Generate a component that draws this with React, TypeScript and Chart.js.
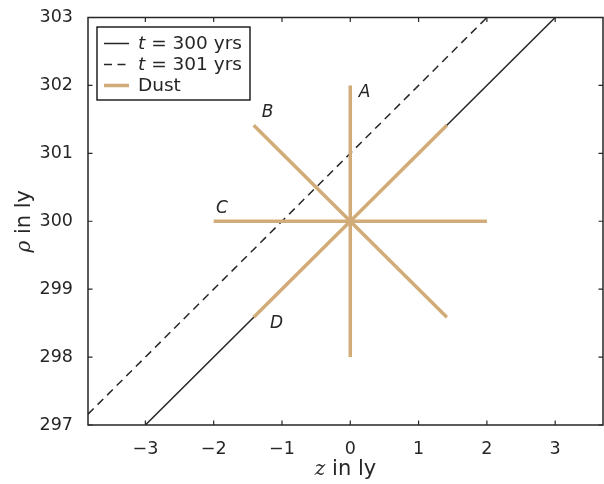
import React, { useEffect, useRef } from "react";
import { Chart, registerables } from "chart.js";

Chart.register(...registerables);

// ---- data ----
const xLimits = [-3.84, 3.7];
const yLimits = [297, 303];
const legendTimes = ["300", "301"];
const lineT300X = [-3, 3];
const lineT300Y = [297, 303];
const lineT301X = [-3.84, 2];
const lineT301Y = [297.16, 303];
const dustArms = ["A", "B", "C", "D"];
const dustStartX = [0, -1.414, -2, -1.414];
const dustStartY = [298, 301.414, 300, 298.586];
const dustEndX = [0, 1.414, 2, 1.414];
const dustEndY = [302, 298.586, 300, 301.414];
const armLabelX = [0.21, -1.21, -1.88, -1.08];
const armLabelY = [301.9, 301.6, 300.19, 298.5];

const SANS = '"DejaVu Sans", sans-serif';
const SERIF = '"DejaVu Serif", "Liberation Serif", serif';
const INK = "#262626";
const DUST = "#D2AC78";
const DASH = [8, 5.5];

const fmt = (v: number) => (v < 0 ? "\u2212" + Math.abs(v) : String(v));

export default function App() {
  const ref = useRef<HTMLCanvasElement | null>(null);

  useEffect(() => {
    document.body.style.margin = "0";
    const canvas = ref.current!;
    const datasets: any[] = [];
    dustArms.forEach((a, i) => {
      datasets.push({
        label: "Dust " + a,
        data: [
          { x: dustStartX[i], y: dustStartY[i] },
          { x: dustEndX[i], y: dustEndY[i] },
        ],
        showLine: true,
        borderColor: DUST,
        borderWidth: 3.5,
        pointRadius: 0,
        borderCapStyle: "butt",
        order: 0,
      });
    });
    datasets.push({
      label: "t = 300",
      data: lineT300X.map((x, i) => ({ x, y: lineT300Y[i] })),
      showLine: true,
      borderColor: INK,
      borderWidth: 1.5,
      pointRadius: 0,
      order: 1,
    });
    datasets.push({
      label: "t = 301",
      data: lineT301X.map((x, i) => ({ x, y: lineT301Y[i] })),
      showLine: true,
      borderColor: INK,
      borderWidth: 1.5,
      borderDash: DASH,
      pointRadius: 0,
      order: 1,
    });

    const overlay = {
      id: "overlay",
      afterDraw(chart: any) {
        const ctx = chart.ctx as CanvasRenderingContext2D;
        const ca = chart.chartArea;
        const xs = chart.scales.x;
        const ys = chart.scales.y;
        ctx.save();
        // frame
        ctx.strokeStyle = INK;
        ctx.lineWidth = 1.5;
        ctx.strokeRect(ca.left, ca.top, ca.right - ca.left, ca.bottom - ca.top);
        // inward ticks
        ctx.lineWidth = 1.2;
        const tl = 4.5;
        xs.ticks.forEach((t: any) => {
          const px = xs.getPixelForValue(t.value);
          ctx.beginPath();
          ctx.moveTo(px, ca.bottom);
          ctx.lineTo(px, ca.bottom - tl);
          ctx.moveTo(px, ca.top);
          ctx.lineTo(px, ca.top + tl);
          ctx.stroke();
        });
        ys.ticks.forEach((t: any) => {
          const py = ys.getPixelForValue(t.value);
          ctx.beginPath();
          ctx.moveTo(ca.left, py);
          ctx.lineTo(ca.left + tl, py);
          ctx.moveTo(ca.right, py);
          ctx.lineTo(ca.right - tl, py);
          ctx.stroke();
        });
        // arm labels
        ctx.fillStyle = INK;
        ctx.font = "italic 17px " + SANS;
        ctx.textAlign = "center";
        ctx.textBaseline = "middle";
        dustArms.forEach((a, i) => {
          ctx.fillText(a, xs.getPixelForValue(armLabelX[i]), ys.getPixelForValue(armLabelY[i]));
        });
        // legend
        const lx = 97, ly = 27, lw = 153, lh = 73;
        ctx.fillStyle = "rgba(255,255,255,0.9)";
        ctx.fillRect(lx, ly, lw, lh);
        ctx.strokeStyle = "#000";
        ctx.lineWidth = 1.3;
        ctx.strokeRect(lx, ly, lw, lh);
        const rows = [43.5, 64.5, 85.5];
        const styles = [
          { c: INK, w: 1.5, d: [] as number[] },
          { c: INK, w: 1.5, d: DASH },
          { c: DUST, w: 3.5, d: [] as number[] },
        ];
        rows.forEach((ry, i) => {
          const s = styles[i];
          ctx.beginPath();
          ctx.strokeStyle = s.c;
          ctx.lineWidth = s.w;
          ctx.setLineDash(s.d);
          ctx.moveTo(104, ry);
          ctx.lineTo(129, ry);
          ctx.stroke();
        });
        ctx.setLineDash([]);
        ctx.fillStyle = INK;
        ctx.textAlign = "left";
        ctx.textBaseline = "middle";
        legendTimes.forEach((tm, i) => {
          let x = 138;
          ctx.font = "italic 18.5px " + SANS;
          ctx.fillText("t", x, rows[i] + 1);
          x += ctx.measureText("t").width;
          ctx.font = "18.5px " + SANS;
          ctx.fillText(" = " + tm + " yrs", x, rows[i] + 1);
        });
        ctx.font = "18.5px " + SANS;
        ctx.fillText("Dust", 138, rows[2] + 1);
        // axis titles
        const drawTitle = (sym: string, cx: number, cy: number, rot: number) => {
          ctx.save();
          ctx.translate(cx, cy);
          ctx.rotate(rot);
          ctx.font = "italic 20px " + SERIF;
          const w1 = ctx.measureText(sym).width;
          ctx.font = "21px " + SANS;
          const rest = " in ly";
          const w2 = ctx.measureText(rest).width;
          const x = -(w1 + w2) / 2;
          ctx.textAlign = "left";
          ctx.textBaseline = "middle";
          ctx.font = "italic 20px " + SERIF;
          ctx.fillText(sym, x, 0);
          ctx.font = "21px " + SANS;
          ctx.fillText(rest, x + w1, 0);
          ctx.restore();
        };
        drawTitle("z", (ca.left + ca.right) / 2, 470, 0);
        drawTitle("\u03C1", 25, (ca.top + ca.bottom) / 2, -Math.PI / 2);
        ctx.restore();
      },
    };

    const chart = new Chart(canvas, {
      type: "scatter",
      data: { datasets },
      options: {
        animation: false,
        responsive: false,
        maintainAspectRatio: false,
        layout: { padding: { top: 17, right: 1, left: 0, bottom: 0 } },
        plugins: { legend: { display: false }, tooltip: { enabled: false } },
        scales: {
          x: {
            type: "linear",
            min: xLimits[0],
            max: xLimits[1],
            grid: { display: false },
            border: { display: false },
            ticks: {
              stepSize: 1,
              includeBounds: false,
              maxRotation: 0,
              padding: 6,
              color: INK,
              font: { family: SANS, size: 17.5 },
              callback: (v: any) => fmt(Number(v)),
            },
            afterFit: (s: any) => {
              s.height = 59;
            },
          },
          y: {
            type: "linear",
            min: yLimits[0],
            max: yLimits[1],
            grid: { display: false },
            border: { display: false },
            ticks: {
              stepSize: 1,
              includeBounds: false,
              padding: 7,
              color: INK,
              font: { family: SANS, size: 17.5 },
              callback: (v: any) => fmt(Number(v)),
            },
            afterFit: (s: any) => {
              s.width = 88;
            },
          },
        },
      } as any,
      plugins: [overlay],
    });
    return () => chart.destroy();
  }, []);

  return (
    <div style={{ position: "fixed", left: 0, top: 0, width: 604, height: 484, background: "#fff" }}>
      <canvas ref={ref} width={604} height={484} />
    </div>
  );
}
